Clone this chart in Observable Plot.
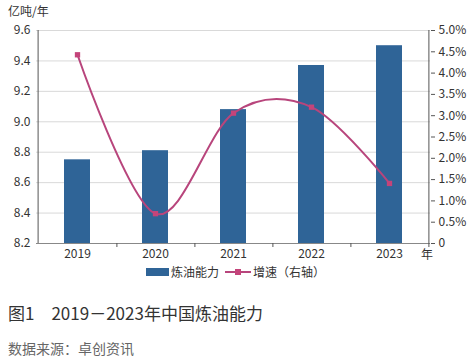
<!DOCTYPE html>
<html><head><meta charset="utf-8">
<script src="https://cdn.jsdelivr.net/npm/d3@7"></script>
<script src="https://cdn.jsdelivr.net/npm/@observablehq/plot@0.6"></script>
<style>
body{margin:0;background:#fff;font-family:"Noto Sans CJK SC","Noto Sans",sans-serif;color:#333;}
#wrap{position:relative;width:471px;height:363px;}
.unit{position:absolute;left:8px;top:2px;font-size:12px;color:#333;}
.yr{position:absolute;left:421px;top:245px;font-size:12px;color:#333;}
.legend{position:absolute;left:0;width:471px;top:263px;display:flex;justify-content:center;align-items:center;font-size:12px;color:#333;}
.title{position:absolute;left:8px;top:300px;font-size:17px;color:#333;}
.src{position:absolute;left:8px;top:338px;font-size:14px;color:#666;}
</style></head>
<body><div id="wrap"><div id="chart"></div>
<div class="unit">亿吨/年</div>
<div class="yr">年</div>
<div class="legend" id="legend"></div>
<div class="title">图1　2019－2023年中国炼油能力</div>
<div class="src">数据来源：卓创资讯</div>
</div>
<script>
const years = ["2019","2020","2021","2022","2023"];
const capacity = [8.75, 8.81, 9.08, 9.37, 9.50];
const growth = [4.43, 0.70, 3.06, 3.20, 1.41];
const leftTicks = [8.2, 8.4, 8.6, 8.8, 9.0, 9.2, 9.4, 9.6];
const rightTicks = [0, 0.5, 1.0, 1.5, 2.0, 2.5, 3.0, 3.5, 4.0, 4.5, 5.0];
const barColor = "#2f6497";
const lineColor = "#b8457c";

const yMin = 8.2, yMax = 9.6, rMax = 5;
const toLeft = p => yMin + p / rMax * (yMax - yMin);
const data = years.map((y, i) => ({year: y, cap: capacity[i], g: growth[i]}));
const W = 471, ml = 36, mr = 41;
const bw = (W - ml - mr) / years.length;

const chart = Plot.plot({
  width: W, height: 262,
  marginTop: 30, marginBottom: 19, marginLeft: ml, marginRight: mr,
  style: {fontFamily: '"Noto Sans CJK SC","Noto Sans",sans-serif', fontSize: "12px", color: "#333", background: "transparent"},
  x: {type: "band", domain: years, paddingInner: 0.67, paddingOuter: 0.335},
  y: {domain: [yMin, yMax]},
  marks: [
    Plot.gridY(leftTicks, {stroke: "#d9d9d9", strokeOpacity: 1}),
    Plot.barY(data, {x: "year", y1: () => yMin, y2: "cap", fill: barColor}),
    Plot.ruleY([yMin], {stroke: "#888"}),
    Plot.ruleX([years[0]], {dx: -bw / 2, stroke: "#555"}),
    Plot.ruleX([years[4]], {dx: bw / 2, stroke: "#555"}),
    Plot.axisY(leftTicks, {anchor: "left", tickSize: 0, tickPadding: 6, tickFormat: d => d.toFixed(1), label: null, fontSize: 12}),
    Plot.axisY(rightTicks.map(toLeft), {anchor: "right", tickSize: 4, tickPadding: 4, stroke: "#555",
      tickFormat: v => { const p = Math.round((v - yMin) / (yMax - yMin) * rMax * 10) / 10; return p === 0 ? "0" : p.toFixed(1) + "%"; },
      label: null, fontSize: 12}),
    Plot.axisX(years, {tickSize: 0, tickPadding: 6, label: null, fontSize: 12}),
    Plot.axisX(years, {tickSize: 4, tickFormat: null, dx: bw / 2, stroke: "#555", label: null}),
    Plot.line(data, {x: "year", y: d => toLeft(d.g), stroke: lineColor, strokeWidth: 2, curve: "cardinal"}),
    Plot.dot(data, {x: "year", y: d => toLeft(d.g), symbol: "square", r: 3, fill: "#c4447a", stroke: "none"})
  ]
});
document.getElementById("chart").appendChild(chart);

const lg = document.getElementById("legend");
lg.innerHTML = `<span style="display:inline-block;width:23px;height:8px;background:${barColor};margin-right:2px"></span><span>炼油能力</span>
<svg width="26" height="10" style="margin:0 2px 0 6px"><line x1="0" y1="5" x2="26" y2="5" stroke="${lineColor}" stroke-width="2"/><rect x="10" y="2" width="6" height="6" fill="#c4447a"/></svg><span>增速（右轴）</span>`;
</script></body></html>
